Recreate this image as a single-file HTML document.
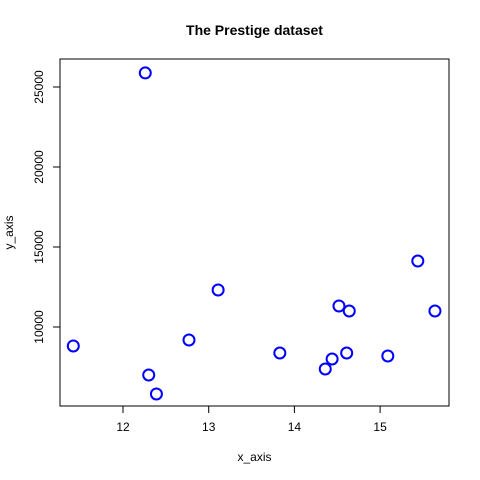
<!DOCTYPE html>
<html><head><meta charset="utf-8"><style>
body{margin:0;background:#fff}
svg{display:block;font-family:"Liberation Sans",Arial,sans-serif}
</style></head><body>
<svg id="chart" width="480" height="480" viewBox="0 0 480 480">
<rect x="0" y="0" width="480" height="480" fill="#fff"/>
<text x="254.5" y="35" text-anchor="middle" font-size="14" font-weight="bold">The Prestige dataset</text>
<rect x="60" y="59" width="389" height="347" fill="none" stroke="#000" stroke-width="1"/>
<g id="xaxis"></g>
<g id="yaxis"></g>
<g id="points"></g>
<text x="254.5" y="461" text-anchor="middle" font-size="12">x_axis</text>
<text transform="translate(13,232.5) rotate(-90)" text-anchor="middle" font-size="12">y_axis</text>
</svg>
<script>
const xValues=[11.42,12.26,12.30,12.39,12.77,13.11,13.83,14.36,14.44,14.52,14.61,14.64,15.09,15.44,15.64];
const yValues=[8813,25879,7000,5813,9188,12313,8375,7375,8000,11313,8375,11000,8188,14125,11000];
const xTicks=[12,13,14,15];
const yTicks=[10000,15000,20000,25000];
const NS="http://www.w3.org/2000/svg";
function sx(v){return 123+(v-12)*85.7;}
function sy(v){return 327-(v-10000)*0.016;}
function mk(tag,attrs,parent){const e=document.createElementNS(NS,tag);for(const k in attrs)e.setAttribute(k,attrs[k]);parent.appendChild(e);return e;}
const xg=document.getElementById('xaxis'),yg=document.getElementById('yaxis'),pg=document.getElementById('points');
mk('line',{x1:sx(xTicks[0]),x2:sx(xTicks[xTicks.length-1]),y1:406,y2:406,stroke:'#000'},xg);
xTicks.forEach(t=>{
  const l=mk('line',{x1:sx(t),x2:sx(t),y1:406,y2:413,stroke:'#000'},xg);
  
  
  const tx=mk('text',{x:sx(t),y:431,'text-anchor':'middle','font-size':12},xg);
  tx.textContent=t;
  
  
});
mk('line',{x1:60,x2:60,y1:sy(yTicks[0]),y2:sy(yTicks[yTicks.length-1]),stroke:'#000'},yg);
yTicks.forEach(t=>{
  const l=mk('line',{x1:53,x2:60,y1:sy(t),y2:sy(t),stroke:'#000'},yg);
  
  
  const tx=mk('text',{transform:`translate(43,${sy(t)}) rotate(-90)`,'text-anchor':'middle','font-size':12},yg);
  tx.textContent=t;
  
  
});
xValues.forEach((x,i)=>{
  const c=mk('circle',{cx:sx(x),cy:sy(yValues[i]),r:5.5,fill:'none',stroke:'#0000ff','stroke-width':2},pg);
  
  
});
</script>
</body></html>
